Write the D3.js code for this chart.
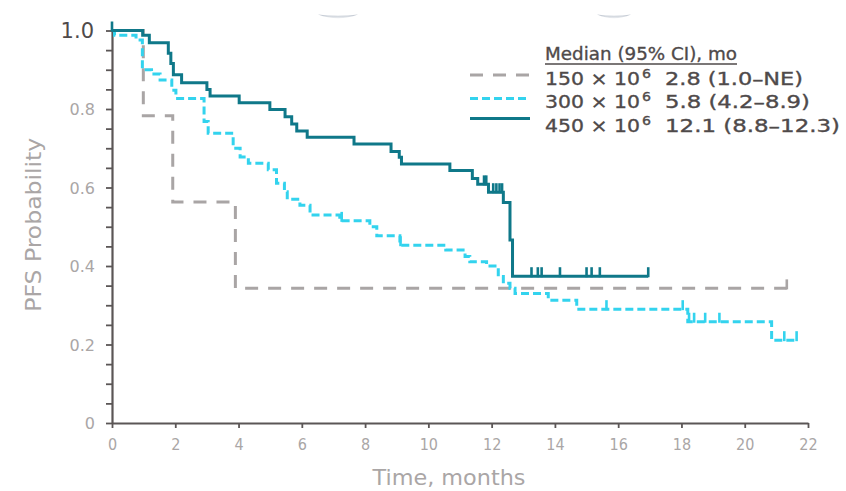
<!DOCTYPE html>
<html>
<head>
<meta charset="utf-8">
<script src="https://cdn.jsdelivr.net/npm/d3@7"></script>
<style>
  html, body { margin: 0; padding: 0; background: #ffffff; }
  svg { display: block; }
</style>
</head>
<body>
<svg id="chart" width="846" height="491"></svg>
<script>
// Kaplan–Meier progression-free survival by dose level

// time axis ticks (months) and probability ticks
const xTicks = [0, 2, 4, 6, 8, 10, 12, 14, 16, 18, 20, 22];
const yMajorTicks = [0, 0.2, 0.4, 0.6, 0.8, 1.0];
const yTickLabels = ["0", "0.2", "0.4", "0.6", "0.8", "1.0"];

// 150 × 10^6 arm
const dose150Times = [0, 0.99, 1.92, 3.9];
const dose150Surv  = [1.0, 0.783, 0.563, 0.343];
const dose150End = 21.33;
const dose150Censor = [21.33];

// 300 × 10^6 arm
const dose300Times = [0, 0.08, 0.76, 0.96, 1.25, 1.52, 1.89, 2.02, 2.91, 3.04, 3.83, 4.05, 4.31, 4.94, 5.2, 5.45, 5.54, 5.94, 6.26, 7.2, 8.15, 8.37, 9.1, 10.55, 11.16, 11.31, 11.84, 12.21, 12.37, 12.58, 12.74, 13.79, 14.69, 18.2, 20.85];
const dose300Surv  = [1.0, 0.988, 0.976, 0.9, 0.889, 0.874, 0.848, 0.827, 0.768, 0.738, 0.7, 0.678, 0.662, 0.645, 0.611, 0.589, 0.57, 0.555, 0.53, 0.515, 0.5, 0.477, 0.453, 0.441, 0.424, 0.411, 0.4, 0.373, 0.356, 0.343, 0.33, 0.313, 0.29, 0.258, 0.211];
const dose300End = 21.64;
const dose300Censor = [7.26, 9.12, 15.63, 18.04, 18.24, 18.4, 18.75, 19.2, 21.25, 21.64];

// 450 × 10^6 arm
const dose450Times = [0, 0.97, 1.18, 1.78, 1.86, 1.94, 2.2, 3.0, 3.1, 4.02, 4.99, 5.47, 5.68, 5.84, 6.17, 7.65, 8.82, 9.08, 9.15, 10.68, 11.39, 11.56, 11.9, 12.37, 12.58, 12.66];
const dose450Surv  = [1.0, 0.988, 0.969, 0.942, 0.916, 0.887, 0.867, 0.85, 0.833, 0.816, 0.799, 0.78, 0.762, 0.744, 0.728, 0.711, 0.692, 0.677, 0.66, 0.643, 0.623, 0.608, 0.588, 0.562, 0.466, 0.374];
const dose450End = 16.95;
const dose450Censor = [0, 11.76, 11.83, 12.05, 12.15, 12.25, 12.33, 13.26, 13.46, 13.58, 14.16, 15.0, 15.16, 15.42, 16.95];

// legend text
const legendTitle = "Median (95% CI), mo";
const legendDose = ["150", "300", "450"];
const legendMedian = ["2.8 (1.0\u2013NE)", "5.8 (4.2\u20138.9)", "12.1 (8.8\u201312.3)"];

const arms = [
  { times: dose150Times, surv: dose150Surv, end: dose150End, censor: dose150Censor, color: "#a9a5a5", dash: "13,10" },
  { times: dose300Times, surv: dose300Surv, end: dose300End, censor: dose300Censor, color: "#33d3ee", dash: "8,4" },
  { times: dose450Times, surv: dose450Surv, end: dose450End, censor: dose450Censor, color: "#0f7889", dash: null }
];

const svg = d3.select("#chart");
const FONT = "'DejaVu Sans', Verdana, sans-serif";
const FONT_C = "'DejaVu Sans Condensed', 'DejaVu Sans', sans-serif";
const INK = "#4f4a4a";
const PALE = "#aaa6a6";

const x = d3.scaleLinear().domain([0, 22]).range([112, 808]);
const y = d3.scaleLinear().domain([0, 1]).range([423, 30.5]);

// faint rounded shadows along the top edge
const shade = svg.append("defs").append("linearGradient").attr("id", "shade")
  .attr("x1", 0).attr("x2", 0).attr("y1", 0).attr("y2", 1);
shade.append("stop").attr("offset", "0%").attr("stop-color", "#aab3c0");
shade.append("stop").attr("offset", "100%").attr("stop-color", "#e8ebef");
[[338, 20], [614, 17]].forEach(([cx, rx]) => {
  svg.append("path")
    .attr("d", `M${cx - rx},14.5 Q${cx},22 ${cx + rx},14.5 Q${cx},17 ${cx - rx},14.5 Z`)
    .attr("fill", "url(#shade)").attr("opacity", 0.8);
});

// axes
const yMinor = d3.range(0, 1.0001, 0.05).map(v => +v.toFixed(2));
const yAxis = d3.axisLeft(y).tickValues(yMinor).tickSize(6).tickSizeOuter(0)
  .tickFormat(() => "");
const gy = svg.append("g").attr("transform", `translate(${x(0)},0)`).call(yAxis);
gy.select(".domain").attr("stroke", "#5b5656").attr("stroke-width", 2.2);
gy.selectAll(".tick line").attr("stroke", "#5b5656").attr("stroke-width", 1.8);

const xAxis = d3.axisBottom(x).tickValues(xTicks).tickSize(5).tickSizeOuter(0)
  .tickFormat(d3.format("d"));
const gx = svg.append("g").attr("transform", `translate(0,${y(0)})`).call(xAxis);
gx.select(".domain").attr("stroke", "#5b5656").attr("stroke-width", 2.2);
gx.selectAll(".tick line").attr("stroke", "#5b5656").attr("stroke-width", 1.8);
gx.selectAll(".tick text").attr("dy", 0).attr("y", 27)
  .attr("font-family", FONT_C).attr("font-size", 16).attr("fill", PALE);

// y tick labels
yMajorTicks.forEach((v, i) => {
  const top = v === 1.0;
  svg.append("text")
    .attr("x", top ? 94 : 95).attr("y", y(v) + (top ? 7.5 : 6))
    .attr("text-anchor", "end")
    .attr("font-family", FONT)
    .attr("font-size", top ? 21 : 16)
    .attr("fill", top ? INK : PALE)
    .text(yTickLabels[i]);
});

// axis titles
svg.append("text")
  .attr("transform", `translate(41,${y(0.5) - 2}) rotate(-90)`)
  .attr("text-anchor", "middle")
  .attr("font-family", FONT).attr("font-size", 21).attr("fill", PALE)
  .attr("textLength", 174).attr("lengthAdjust", "spacingAndGlyphs")
  .text("PFS Probability");
svg.append("text")
  .attr("x", 449).attr("y", 485)
  .attr("text-anchor", "middle")
  .attr("font-family", FONT).attr("font-size", 21).attr("fill", PALE)
  .attr("textLength", 153).attr("lengthAdjust", "spacingAndGlyphs")
  .text("Time, months");

// survival curves
const stepLine = d3.line().x(d => x(d[0])).y(d => y(d[1])).curve(d3.curveStepAfter);
function survAt(arm, t) {
  let s = arm.surv[0];
  for (let i = 0; i < arm.times.length; i++) if (arm.times[i] <= t) s = arm.surv[i];
  return s;
}
arms.forEach(arm => {
  const pts = arm.times.map((t, i) => [t, arm.surv[i]]);
  pts.push([arm.end, arm.surv[arm.surv.length - 1]]);
  const p = svg.append("path").datum(pts)
    .attr("d", stepLine)
    .attr("fill", "none")
    .attr("stroke", arm.color)
    .attr("stroke-width", 3);
  if (arm.dash) p.attr("stroke-dasharray", arm.dash);
  svg.append("g").selectAll("line").data(arm.censor).join("line")
    .attr("x1", d => x(d)).attr("x2", d => x(d))
    .attr("y1", d => y(survAt(arm, d)) + 1)
    .attr("y2", d => y(survAt(arm, d)) - 9)
    .attr("stroke", arm.color).attr("stroke-width", 2.6);
});

// legend
const lg = svg.append("g");
function legendText(xPos, yPos, str, width, size) {
  return lg.append("text").attr("x", xPos).attr("y", yPos)
    .attr("font-family", FONT).attr("font-size", size || 18)
    .attr("fill", INK).attr("stroke", INK).attr("stroke-width", 0.35)
    .attr("textLength", width).attr("lengthAdjust", "spacingAndGlyphs")
    .text(str);
}
legendText(545, 60, legendTitle, 192);
lg.append("line").attr("x1", 545).attr("x2", 737).attr("y1", 64).attr("y2", 64)
  .attr("stroke", INK).attr("stroke-width", 1.4);
const rowY = [85, 108, 131.5];
const sampleY = [75, 98.5, 118.5];
const valueWidth = [138, 145, 175];
arms.forEach((arm, i) => {
  const l = lg.append("line").attr("x1", 470).attr("x2", 530)
    .attr("y1", sampleY[i]).attr("y2", sampleY[i])
    .attr("stroke", arm.color).attr("stroke-width", 3);
  if (arm.dash) l.attr("stroke-dasharray", arm.dash);
  legendText(545, rowY[i], legendDose[i] + " \u00d7 10", 95);
  legendText(642, rowY[i] - 7, "6", 9, 12);
  legendText(665, rowY[i], legendMedian[i], valueWidth[i]);
});
</script>
</body>
</html>
